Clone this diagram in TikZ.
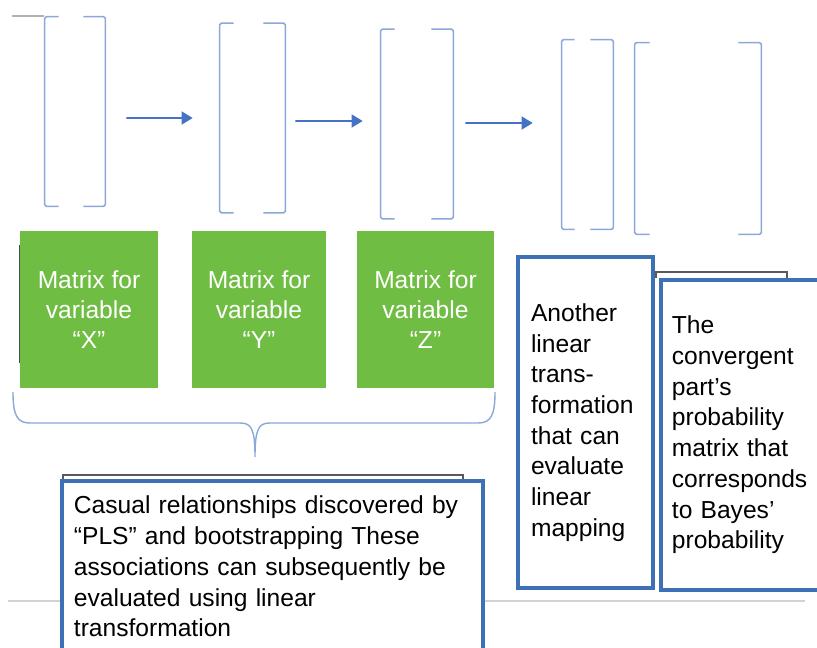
\documentclass[tikz,border=0pt]{standalone}
\usepackage{fontspec}
\setmainfont{Liberation Sans}
\usetikzlibrary{arrows.meta}
\definecolor{brkblue}{RGB}{140,168,218}
\definecolor{arrblue}{RGB}{68,114,196}
\definecolor{boxblue}{RGB}{62,112,181}
\definecolor{matgreen}{RGB}{112,189,68}
\tikzset{
	mat/.style={inner sep=0pt, minimum height=3.78cm},
	brk/.style={draw=brkblue, line width=0.9pt, rounded corners=1pt},
	arr/.style={draw=arrblue, line width=0.9pt, -{Triangle[length=0.22cm,width=0.26cm]}},
	gbox/.style={fill=matgreen, text=white, minimum height=3.14cm, align=center, font=\fontsize{14}{17.2}\selectfont},
	txtbox/.style={draw=boxblue, line width=2.2pt, fill=white, align=left, font=\fontsize{14}{17.5}\selectfont},
}
\begin{document}
\begin{tikzpicture}[x=0.02cm,y=-0.02cm]
		\useasboundingbox (0,0) rectangle (817,647);
		\clip (0,0) rectangle (817,647);
		
		\node[mat, minimum width=1.2cm] at (75,111.5) (m1) {};
		\node[mat, minimum width=1.3cm] at (252.5,118) (m2) {};
		\node[mat, minimum width=1.44cm] at (417,124) (m3) {};
		\node[mat, minimum width=1.02cm] at (587.5,134.5) (m4) {};
		\node[mat, minimum width=2.52cm, minimum height=3.82cm] at (698,138.5) (m5) {};
		
		\node[gbox, minimum width=2.76cm] at (89,309.5) (gx) {Matrix for\\variable\\“X”};
		\node[gbox, minimum width=2.68cm] at (259,309.5) (gy) {Matrix for\\variable\\“Y”};
		\node[gbox, minimum width=2.74cm] at (425.5,309.5) (gz) {Matrix for\\variable\\“Z”};
		
		\draw[gray!60, line width=1pt] (12,16) -- (44,16);
		\draw[gray!60!black, line width=0.5pt] (19.5,245) -- (19.5,363);
		\draw[gray!35, line width=1pt] (8,601) -- (805,601);
		
		\draw[brk] ([xshift=0.28cm]m1.north west) -- (m1.north west) -- (m1.south west) -- ([xshift=0.28cm]m1.south west);
		\draw[brk] ([xshift=-0.44cm]m1.north east) -- (m1.north east) -- (m1.south east) -- ([xshift=-0.44cm]m1.south east);
		\draw[brk] ([xshift=0.28cm]m2.north west) -- (m2.north west) -- (m2.south west) -- ([xshift=0.28cm]m2.south west);
		\draw[brk] ([xshift=-0.44cm]m2.north east) -- (m2.north east) -- (m2.south east) -- ([xshift=-0.44cm]m2.south east);
		\draw[brk] ([xshift=0.28cm]m3.north west) -- (m3.north west) -- (m3.south west) -- ([xshift=0.28cm]m3.south west);
		\draw[brk] ([xshift=-0.44cm]m3.north east) -- (m3.north east) -- (m3.south east) -- ([xshift=-0.44cm]m3.south east);
		\draw[brk] ([xshift=0.26cm]m4.north west) -- (m4.north west) -- (m4.south west) -- ([xshift=0.26cm]m4.south west);
		\draw[brk] ([xshift=-0.46cm]m4.north east) -- (m4.north east) -- (m4.south east) -- ([xshift=-0.46cm]m4.south east);
		\draw[brk] ([xshift=0.3cm]m5.north west) -- (m5.north west) -- (m5.south west) -- ([xshift=0.3cm]m5.south west);
		\draw[brk] ([xshift=-0.46cm]m5.north east) -- (m5.north east) -- (m5.south east) -- ([xshift=-0.46cm]m5.south east);
		
		\draw[arr] ([xshift=0.42cm,yshift=-0.13cm]m1.east) -- ([xshift=-0.54cm]m2.west);
		\draw[arr] ([xshift=0.2cm,yshift=-0.06cm]m2.east) -- ([xshift=-0.36cm,yshift=0.06cm]m3.west);
		\draw[arr] ([xshift=0.24cm,yshift=0.02cm]m3.east) -- ([xshift=-0.58cm,yshift=0.23cm]m4.west);
		
		% brace under the three green boxes
		\draw[brkblue, line width=0.8pt] (13,392) .. controls (13,415) and (17,423) .. (30,423) -- (240,423) .. controls (251,423) and (255,428) .. (255,457) .. controls (255,428) and (259,423) .. (270,423) -- (478,423) .. controls (491,423) and (495,415) .. (495,392);
		
		\draw[gray!70!black, line width=0.6pt] (63,479) -- (63,475) -- (463,475) -- (463,479);
		\draw[gray!70!black, line width=0.6pt] (656,278) -- (656,272) -- (787,272) -- (787,278);
		
		\node[txtbox, anchor=north west, text width=7.94cm, inner xsep=0.24cm, inner ysep=0.3cm] at (60,479) (cas) {Casual relationships discovered by\\“PLS” and bootstrapping These\\associations can subsequently be\\evaluated using linear\\transformation};
		\node[txtbox, text width=2.18cm, inner xsep=0.26cm, minimum height=6.62cm] at (585.5,422.5) (ano) {Another\\linear\\trans-\\formation\\that can\\evaluate\\linear\\mapping};
		\node[txtbox, anchor=north west, text width=3.2cm, inner xsep=0.22cm, minimum height=6.2cm] at (659,278) (con) {The\\convergent\\part’s\\probability\\matrix that\\corresponds\\to Bayes’\\probability};
	\end{tikzpicture}
\end{document}
